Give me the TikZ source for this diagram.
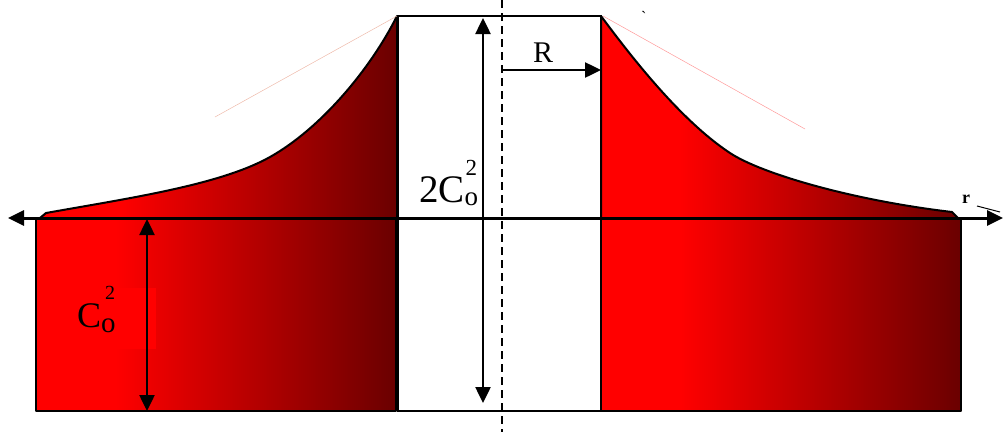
\documentclass[tikz,border=0pt]{standalone}
\usepackage{fontspec}
\setmainfont{Liberation Serif}
\usetikzlibrary{arrows.meta}
\definecolor{deepred}{RGB}{106,0,0}
% horizontal fade, flat red on the inner side then darker outward
\pgfdeclarehorizontalshading{redfade}{100bp}{color(0bp)=(red); color(25bp)=(red); color(36bp)=(red); color(75bp)=(deepred); color(100bp)=(deepred)}
\tikzset{
  redpart/.style={shading=redfade, draw=black, line width=2pt, line join=round},
  onearrow/.style={line width=2.5pt, -{Triangle[length=16pt,width=15pt]}},
  twoarrow/.style={line width=2.5pt, {Triangle[length=16pt,width=15pt]}-{Triangle[length=16pt,width=15pt]}},
  lbl/.style={anchor=base west, inner sep=0pt}
}

\begin{document}
\begin{tikzpicture}[x=1pt,y=-1pt]
\useasboundingbox (0,0) rectangle (1005,432);
%the two red blocks below the axis
\shadedraw[redpart] (36,218) rectangle (396,411);
\shadedraw[redpart] (601,218) rectangle (961,411);
%the two red wings above the axis
\shadedraw[redpart] (40,218) -- (46,213) .. controls (130,198) and (220,185) .. (270,157)
   .. controls (320,129) and (370,70) .. (397,16) -- (397,218) -- cycle;
\shadedraw[redpart] (601,218) -- (601,16) .. controls (630,55) and (680,120) .. (730,153)
   .. controls (760,173) and (850,200) .. (952,212) -- (958,218) -- cycle;
%white core
\draw[line width=2pt, fill=white] (398,16) rectangle (601,411);
%faint tangents
\draw[red!35!brown!40, line width=0.5pt] (397,16) -- (215,117);
\draw[red!40, line width=0.5pt] (603,16) -- (805,129);
%label box behind C_o^2
\node[fill=red, minimum width=81pt, minimum height=61pt, inner sep=0pt] (cbox) at (115.5,318.5) {};
%centre line
\coordinate (ctop) at (502,0);
\coordinate (cbot) at (502,432);
\draw[line width=1.8pt, dash pattern=on 8pt off 5pt] (ctop) -- (cbot);
%r axis
\coordinate (axL) at (8,218);
\coordinate (axR) at (1003,218);
\draw[twoarrow, line width=3pt] (axL) -- (axR);
%dimension arrows
\coordinate (htop) at (483,18);
\coordinate (hbot) at (483,403);
\draw[twoarrow] (htop) -- (hbot);
\coordinate (rmid) at (502,70);
\coordinate (redge) at (601,70);
\draw[onearrow] (rmid) -- (redge);
\coordinate (ctop2) at (147,219);
\coordinate (cbot2) at (147,411);
\draw[twoarrow] (ctop2) -- (cbot2);
%labels
\node[lbl] (rlabel) at (533,62) {\fontsize{30}{30}\selectfont R};
\node[lbl] (hlabel) at (419,202) {\fontsize{39}{39}\selectfont 2C\rlap{\hspace{1pt}\raisebox{27pt}{\fontsize{23}{23}\selectfont 2}}\raisebox{-3pt}{\fontsize{27}{27}\selectfont o}};
\node[lbl] (clabel) at (77,327) {\fontsize{36}{36}\selectfont C\rlap{\hspace{4pt}\raisebox{28pt}{\fontsize{20}{20}\selectfont 2}}\raisebox{-5pt}{\fontsize{29}{29}\selectfont o}};
\node[lbl] (axlabel) at (962,203) {\fontsize{18}{18}\selectfont\bfseries r};
\coordinate (rtick) at (977,206);
\coordinate (rtickend) at (1000,212);
\draw[line width=1pt] (rtick) -- (rtickend);
\node[lbl] (grave) at (641,22) {\fontsize{16}{16}\selectfont\textasciigrave};
\end{tikzpicture}
\end{document}
